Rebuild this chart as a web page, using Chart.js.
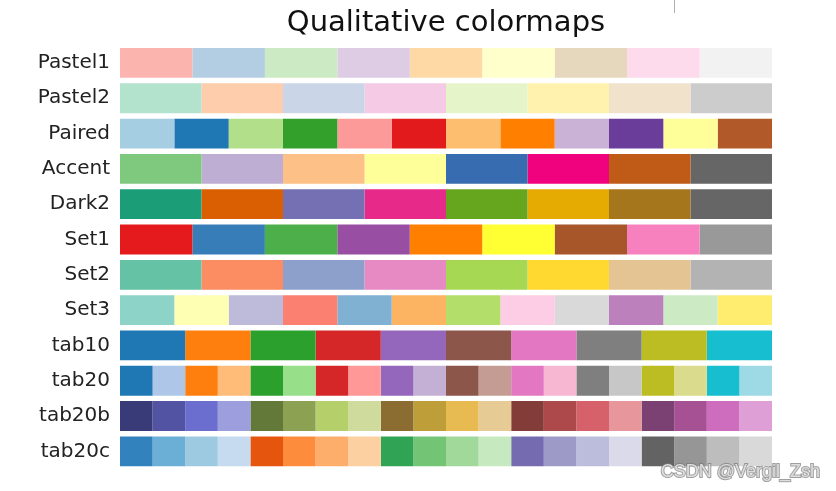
<!DOCTYPE html>
<html>
<head>
<meta charset="utf-8">
<script src="https://cdn.jsdelivr.net/npm/chart.js@4"></script>
<style>
  html, body { margin: 0; padding: 0; background: #fff; }
  #wrap { width: 836px; height: 491px; position: relative; }
</style>
</head>
<body>
<div id="wrap"><canvas id="cmaps" width="836" height="491"></canvas></div>
<script>
// colormap names, top to bottom
const names = ['Pastel1', 'Pastel2', 'Paired', 'Accent', 'Dark2', 'Set1', 'Set2', 'Set3', 'tab10', 'tab20', 'tab20b', 'tab20c'];

const pastel1 = ['#fbb4ae', '#b3cde3', '#ccebc5', '#decbe4', '#fed9a6', '#ffffcc', '#e5d8bd', '#fddaec', '#f2f2f2'];
const pastel2 = ['#b3e2cd', '#fdcdac', '#cbd5e8', '#f4cae4', '#e6f5c9', '#fff2ae', '#f1e2cc', '#cccccc'];
const paired = ['#a6cee3', '#1f78b4', '#b2df8a', '#33a02c', '#fb9a99', '#e31a1c', '#fdbf6f', '#ff7f00', '#cab2d6', '#6a3d9a', '#ffff99', '#b15928'];
const accent = ['#7fc97f', '#beaed4', '#fdc086', '#ffff99', '#386cb0', '#f0027f', '#bf5b17', '#666666'];
const dark2 = ['#1b9e77', '#d95f02', '#7570b3', '#e7298a', '#66a61e', '#e6ab02', '#a6761d', '#666666'];
const set1 = ['#e41a1c', '#377eb8', '#4daf4a', '#984ea3', '#ff7f00', '#ffff33', '#a65628', '#f781bf', '#999999'];
const set2 = ['#66c2a5', '#fc8d62', '#8da0cb', '#e78ac3', '#a6d854', '#ffd92f', '#e5c494', '#b3b3b3'];
const set3 = ['#8dd3c7', '#ffffb3', '#bebada', '#fb8072', '#80b1d3', '#fdb462', '#b3de69', '#fccde5', '#d9d9d9', '#bc80bd', '#ccebc5', '#ffed6f'];
const tab10 = ['#1f77b4', '#ff7f0e', '#2ca02c', '#d62728', '#9467bd', '#8c564b', '#e377c2', '#7f7f7f', '#bcbd22', '#17becf'];
const tab20 = ['#1f77b4', '#aec7e8', '#ff7f0e', '#ffbb78', '#2ca02c', '#98df8a', '#d62728', '#ff9896', '#9467bd', '#c5b0d5',
               '#8c564b', '#c49c94', '#e377c2', '#f7b6d2', '#7f7f7f', '#c7c7c7', '#bcbd22', '#dbdb8d', '#17becf', '#9edae5'];
const tab20b = ['#393b79', '#5254a3', '#6b6ecf', '#9c9ede', '#637939', '#8ca252', '#b5cf6b', '#cedb9c', '#8c6d31', '#bd9e39',
                '#e7ba52', '#e7cb94', '#843c39', '#ad494a', '#d6616b', '#e7969c', '#7b4173', '#a55194', '#ce6dbd', '#de9ed6'];
const tab20c = ['#3182bd', '#6baed6', '#9ecae1', '#c6dbef', '#e6550d', '#fd8d3c', '#fdae6b', '#fdd0a2', '#31a354', '#74c476',
                '#a1d99b', '#c7e9c0', '#756bb1', '#9e9ac8', '#bcbddc', '#dadaeb', '#636363', '#969696', '#bdbdbd', '#d9d9d9'];

const palettes = [pastel1, pastel2, paired, accent, dark2, set1, set2, set3, tab10, tab20, tab20b, tab20c];

// one dataset per colour slot; each row is split into equal shares of its colour count
const maxSlots = Math.max(...palettes.map(p => p.length));
const datasets = [];
for (let j = 0; j < maxSlots; j++) {
    datasets.push({
        data: palettes.map(p => j < p.length ? 1 / p.length : null),
        backgroundColor: palettes.map(p => p[j] || 'rgba(0,0,0,0)'),
        borderWidth: 0,
        barPercentage: 1,
        categoryPercentage: 0.845,
    });
}

// watermark and the little line at the top of the screenshot
const extras = {
    id: 'extras',
    afterDraw(chart) {
        const ctx = chart.ctx;
        ctx.save();
        ctx.strokeStyle = '#b0b0b0';
        ctx.lineWidth = 1;
        ctx.beginPath();
        ctx.moveTo(674.5, 0);
        ctx.lineTo(674.5, 13);
        ctx.stroke();

        ctx.font = '18px "Liberation Sans", Arial, sans-serif';
        ctx.textAlign = 'right';
        ctx.textBaseline = 'alphabetic';
        ctx.lineWidth = 2;
        ctx.strokeStyle = 'rgba(120,120,120,0.7)';
        ctx.strokeText('CSDN @Vergil_Zsh', 820, 477);
        ctx.fillStyle = 'rgba(225,225,225,0.95)';
        ctx.fillText('CSDN @Vergil_Zsh', 820, 477);
        ctx.restore();
    }
};

new Chart(document.getElementById('cmaps'), {
    type: 'bar',
    data: { labels: names, datasets: datasets },
    options: {
        indexAxis: 'y',
        responsive: false,
        animation: false,
        layout: { padding: { left: 0, right: 64, top: 0, bottom: 20.3 } },
        plugins: {
            legend: { display: false },
            tooltip: { enabled: false },
            title: {
                display: true,
                fullSize: false,
                text: 'Qualitative colormaps',
                color: '#111',
                font: { family: 'DejaVu Sans', size: 29, weight: 'normal' },
                padding: { top: 6, bottom: 4.5 },
            },
        },
        scales: {
            x: { stacked: true, display: false, min: 0, max: 1 },
            y: {
                stacked: true,
                grid: { display: false, drawTicks: false },
                border: { display: false },
                ticks: {
                    color: '#222',
                    padding: 10,
                    font: { family: 'DejaVu Sans', size: 20 },
                },
                afterFit: s => { s.width = 120; },
            },
        },
    },
    plugins: [extras],
});
</script>
</body>
</html>
